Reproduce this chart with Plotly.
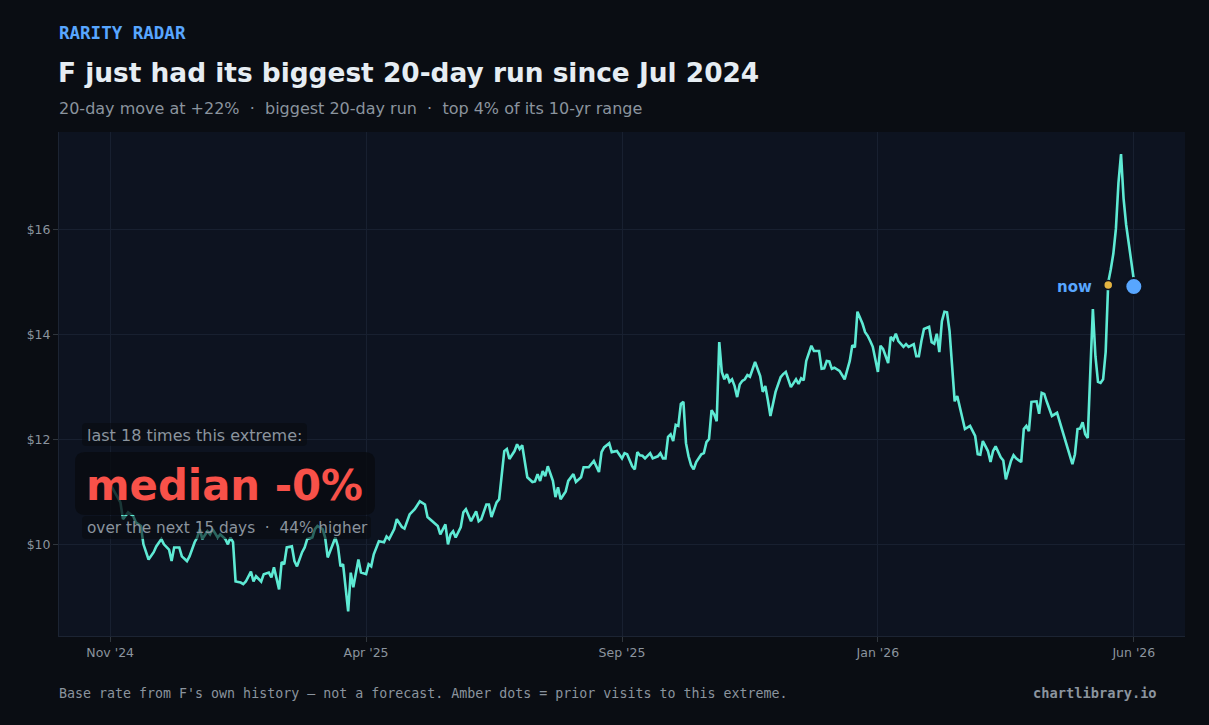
import plotly.graph_objects as go

# ---- data ----
day_index = [0, 4, 5, 7, 9, 10, 12, 13, 15, 17, 18, 20, 21, 23, 24, 25, 27, 28, 30, 31, 33, 34, 35, 36, 38, 39, 40, 42, 43, 45, 46, 47, 48, 49, 51, 52, 53, 55, 56, 57, 59, 60, 62, 63, 64, 65, 66, 67, 68, 69, 71, 72, 73, 75, 76, 77, 79, 80, 81, 83, 84, 85, 87, 88, 89, 90, 91, 92, 93, 94, 95, 97, 98, 100, 101, 102, 103, 105, 107, 108, 109, 111, 112, 114, 115, 117, 119, 121, 123, 124, 125, 126, 128, 129, 131, 132, 133, 134, 135, 137, 138, 139, 141, 143, 144, 145, 147, 148, 149, 151, 152, 154, 155, 156, 158, 159, 160, 161, 163, 165, 166, 167, 168, 169, 170, 171, 173, 174, 175, 176, 178, 179, 181, 182, 184, 185, 187, 189, 190, 191, 192, 193, 195, 196, 198, 200, 201, 202, 204, 205, 206, 207, 208, 209, 211, 212, 214, 215, 216, 217, 218, 219, 220, 221, 222, 223, 224, 225, 226, 227, 228, 229, 231, 232, 233, 234, 235, 236, 237, 238, 239, 240, 241, 242, 243, 244, 245, 246, 247, 248, 249, 250, 252, 254, 255, 256, 257, 258, 260, 262, 263, 264, 266, 268, 269, 270, 271, 272, 274, 275, 277, 278, 279, 280, 281, 282, 283, 285, 287, 288, 289, 290, 291, 292, 294, 295, 296, 297, 298, 300, 301, 302, 304, 305, 306, 307, 308, 310, 311, 312, 314, 315, 316, 317, 318, 320, 321, 322, 323, 324, 325, 326, 327, 328, 330, 331, 333, 334, 336, 338, 339, 340, 341, 343, 344, 345, 346, 348, 349, 350, 352, 353, 354, 356, 357, 358, 359, 360, 362, 363, 364, 365, 366, 368, 370, 371, 372, 374, 376, 377, 378, 379, 380, 381, 382, 383, 384, 385, 386, 387, 388, 389, 390, 391, 392, 393, 394, 395, 396, 397, 398, 399, 400]
close_price = [11.15, 10.80, 10.48, 10.61, 10.54, 10.42, 10.35, 10.00, 9.71, 9.85, 9.96, 10.10, 10.00, 9.90, 9.68, 9.94, 9.94, 9.77, 9.68, 9.77, 10.04, 10.13, 10.29, 10.10, 10.25, 10.19, 10.29, 10.13, 10.19, 10.10, 10.00, 10.13, 10.04, 9.29, 9.27, 9.24, 9.29, 9.48, 9.29, 9.39, 9.29, 9.43, 9.46, 9.37, 9.56, 9.33, 9.14, 9.66, 9.62, 9.94, 9.96, 9.68, 9.58, 9.85, 9.94, 10.10, 10.13, 10.29, 10.35, 10.29, 10.13, 9.75, 10.00, 10.13, 9.96, 9.58, 9.62, 9.20, 8.72, 9.46, 9.18, 9.71, 9.46, 9.43, 9.62, 9.58, 9.81, 10.06, 10.04, 10.15, 10.10, 10.29, 10.48, 10.33, 10.30, 10.57, 10.67, 10.82, 10.76, 10.52, 10.48, 10.43, 10.35, 10.19, 10.38, 10.00, 10.19, 10.25, 10.13, 10.33, 10.61, 10.67, 10.44, 10.63, 10.44, 10.48, 10.76, 10.76, 10.52, 10.80, 10.86, 11.78, 11.82, 11.63, 11.78, 11.91, 11.82, 11.89, 11.28, 11.19, 11.20, 11.34, 11.21, 11.40, 11.30, 11.49, 11.21, 10.90, 11.09, 10.86, 11.01, 11.21, 11.34, 11.19, 11.28, 11.47, 11.47, 11.59, 11.47, 11.38, 11.76, 11.85, 11.93, 11.76, 11.78, 11.64, 11.74, 11.72, 11.49, 11.43, 11.76, 11.70, 11.69, 11.64, 11.74, 11.64, 11.68, 11.74, 11.64, 11.64, 12.05, 12.10, 11.97, 12.28, 12.26, 12.68, 12.72, 11.93, 11.68, 11.51, 11.43, 11.57, 11.72, 11.74, 11.95, 12.01, 12.56, 12.48, 12.35, 13.86, 13.29, 13.15, 13.25, 13.10, 13.15, 13.02, 12.81, 13.05, 13.12, 13.15, 13.23, 13.20, 13.48, 13.21, 12.91, 13.02, 12.75, 12.45, 12.91, 13.19, 13.25, 13.29, 13.00, 13.15, 13.06, 13.17, 13.13, 13.50, 13.79, 13.69, 13.69, 13.35, 13.36, 13.50, 13.49, 13.35, 13.37, 13.31, 13.15, 13.35, 13.50, 13.80, 13.76, 14.44, 14.21, 14.05, 13.98, 13.88, 13.77, 13.29, 13.79, 13.73, 13.46, 13.96, 13.90, 14.02, 13.88, 13.77, 13.82, 13.77, 13.82, 13.59, 13.59, 13.88, 14.11, 14.15, 13.86, 13.83, 14.02, 13.67, 14.26, 14.44, 14.43, 14.07, 12.73, 12.83, 12.39, 12.20, 12.26, 12.07, 11.72, 11.71, 11.97, 11.78, 11.57, 11.78, 11.87, 11.66, 11.60, 11.24, 11.59, 11.70, 11.64, 11.57, 12.20, 12.26, 12.16, 12.72, 12.73, 12.49, 12.89, 12.87, 12.72, 12.45, 12.51, 12.35, 12.16, 11.87, 11.53, 11.72, 12.20, 12.21, 12.33, 12.10, 12.03, 13.29, 14.49, 13.59, 13.10, 13.08, 13.15, 13.67, 15.00, 15.25, 15.55, 16.02, 16.90, 17.45, 16.60, 16.10, 15.75, 15.40, 15.05]

prior_visit_index = [390]
prior_visit_price = [14.95]
now_index = [400]
now_price = [14.92]

tick_positions = [0, 100, 200, 300, 400]
tick_labels = ["Nov '24", "Apr '25", "Sep '25", "Jan '26", "Jun '26"]
price_ticks = [10, 12, 14, 16]
price_tick_labels = ["$10", "$12", "$14", "$16"]

# ---- styling ----
PAPER = "#0a0d13"
PLOT = "#0d1320"
GRID = "#182030"
LINE = "#5eead4"
BLUE = "#58a6ff"
AMBER = "#e3b341"
RED = "#f85149"
GRAY = "#8b949e"
SANS = "DejaVu Sans"
MONO = "DejaVu Sans Mono"

W, H = 1209, 725
ML, MR, MT, MB = 59, 24, 132, 89
PW, PH = W - ML - MR, H - MT - MB


def px(x):
    return (x - ML) / PW


def py(y):
    return (H - MB - y) / PH


def rounded_box(x0, y0, x1, y1, r):
    X0, X1 = px(x0), px(x1)
    Y0, Y1 = py(y1), py(y0)
    rx, ry = r / PW, r / PH
    return (f"M {X0+rx},{Y0} L {X1-rx},{Y0} Q {X1},{Y0} {X1},{Y0+ry} "
            f"L {X1},{Y1-ry} Q {X1},{Y1} {X1-rx},{Y1} L {X0+rx},{Y1} "
            f"Q {X0},{Y1} {X0},{Y1-ry} L {X0},{Y0+ry} Q {X0},{Y0} {X0+rx},{Y0} Z")


fig = go.Figure()
fig.add_trace(go.Scatter(x=day_index, y=close_price, mode="lines",
                         line=dict(color=LINE, width=2.6), hoverinfo="skip",
                         showlegend=False))
fig.add_trace(go.Scatter(x=prior_visit_index, y=prior_visit_price, mode="markers",
                         marker=dict(color=AMBER, size=9, line=dict(color=PLOT, width=1.5)),
                         showlegend=False))
fig.add_trace(go.Scatter(x=now_index, y=now_price, mode="markers",
                         marker=dict(color=BLUE, size=17, line=dict(color=PLOT, width=2)),
                         showlegend=False))

shapes = [
    dict(type="path", xref="paper", yref="paper", path=rounded_box(82, 423, 307, 446, 4),
         fillcolor="rgba(9,11,16,0.6)", line=dict(width=0), layer="above"),
    dict(type="path", xref="paper", yref="paper", path=rounded_box(75, 452, 375, 515, 10),
         fillcolor="rgba(9,11,16,0.8)", line=dict(width=0), layer="above"),
    dict(type="path", xref="paper", yref="paper", path=rounded_box(82, 516, 371, 539, 4),
         fillcolor="rgba(9,11,16,0.6)", line=dict(width=0), layer="above"),
]

annotations = [
    dict(text="<b>RARITY RADAR</b>", xref="paper", yref="paper", x=px(57), y=py(33),
         xanchor="left", yanchor="middle", showarrow=False,
         font=dict(family=MONO, size=17.5, color=BLUE)),
    dict(text="<b>F just had its biggest 20-day run since Jul 2024</b>", xref="paper", yref="paper",
         x=px(56), y=py(73), xanchor="left", yanchor="middle", showarrow=False,
         font=dict(family=SANS, size=26.4, color="#e6edf3")),
    dict(text="20-day move at +22%  ·  biggest 20-day run  ·  top 4% of its 10-yr range",
         xref="paper", yref="paper", x=px(57), y=py(109), xanchor="left", yanchor="middle",
         showarrow=False, font=dict(family=SANS, size=16, color=GRAY)),
    dict(text="last 18 times this extreme:", xref="paper", yref="paper", x=px(85), y=py(435),
         xanchor="left", yanchor="middle", showarrow=False,
         font=dict(family=SANS, size=16, color=GRAY)),
    dict(text="<b>median -0%</b>", xref="paper", yref="paper", x=px(84), y=py(485),
         xanchor="left", yanchor="middle", showarrow=False,
         font=dict(family=SANS, size=41.8, color=RED)),
    dict(text="over the next 15 days  ·  44% higher", xref="paper", yref="paper", x=px(85), y=py(528),
         xanchor="left", yanchor="middle", showarrow=False,
         font=dict(family=SANS, size=15.3, color=GRAY)),
    dict(text="<b>now</b>", x=now_index[0], y=now_price[0], xref="x", yref="y",
         xanchor="right", yanchor="middle", xshift=-40, showarrow=False,
         font=dict(family=SANS, size=15, color=BLUE)),
    dict(text="Base rate from F's own history — not a forecast. Amber dots = prior visits to this extreme.",
         xref="paper", yref="paper", x=px(57), y=py(693), xanchor="left", yanchor="middle",
         showarrow=False, font=dict(family=MONO, size=13.3, color=GRAY)),
    dict(text="<b>chartlibrary.io</b>", xref="paper", yref="paper", x=px(1159), y=py(693),
         xanchor="right", yanchor="middle", showarrow=False,
         font=dict(family=MONO, size=13.7, color=GRAY)),
]

fig.update_layout(
    width=W, height=H,
    margin=dict(l=ML, r=MR, t=MT, b=MB),
    paper_bgcolor=PAPER, plot_bgcolor=PLOT,
    shapes=shapes, annotations=annotations,
    showlegend=False, hovermode=False,
    xaxis=dict(range=[-20, 420], tickmode="array", tickvals=tick_positions, ticktext=tick_labels,
               showgrid=True, gridcolor=GRID, gridwidth=1, zeroline=False,
               showline=True, linecolor="#1c2433", ticks="outside", ticklen=5, tickcolor="#30363d",
               tickfont=dict(family=SANS, size=12.5, color=GRAY)),
    yaxis=dict(range=[8.25, 17.87], tickmode="array", tickvals=price_ticks, ticktext=price_tick_labels,
               showgrid=True, gridcolor=GRID, gridwidth=1, zeroline=False,
               showline=True, linecolor="#1c2433", ticks="outside", ticklen=5, tickcolor="#30363d",
               tickfont=dict(family=SANS, size=12.5, color=GRAY)),
)

fig.write_html("out.html")
